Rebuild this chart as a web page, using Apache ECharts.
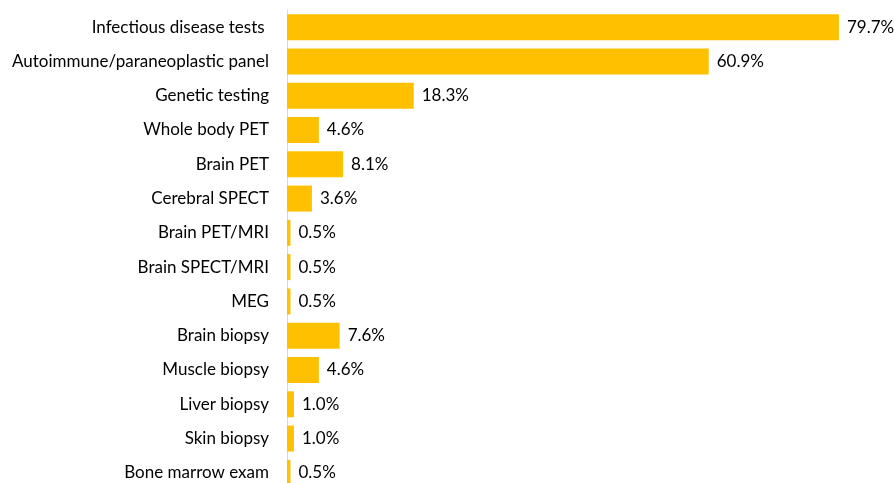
<!DOCTYPE html>
<html>
<head>
<meta charset="utf-8">
<script src="https://cdn.jsdelivr.net/npm/echarts@6/dist/echarts.min.js"></script>
<style>html,body{margin:0;padding:0;background:#fff;overflow:hidden;width:894px;height:483px}#c{width:894px;height:490px}</style>
</head>
<body>
<div id="c"></div>
<script>
var categories = ["Infectious disease tests ", "Autoimmune/paraneoplastic panel", "Genetic testing", "Whole body PET", "Brain PET", "Cerebral SPECT", "Brain PET/MRI", "Brain SPECT/MRI", "MEG", "Brain biopsy", "Muscle biopsy", "Liver biopsy", "Skin biopsy", "Bone marrow exam"];
var values = [79.7, 60.9, 18.3, 4.6, 8.1, 3.6, 0.5, 0.5, 0.5, 7.6, 4.6, 1.0, 1.0, 0.5];

var chart = echarts.init(document.getElementById('c'), null, {renderer: 'canvas'});
chart.setOption({
  animation: false,
  grid: {left: 287, right: 53, top: 10, bottom: 0, containLabel: false},
  xAxis: {
    type: 'value', min: 0, max: 80, show: false
  },
  yAxis: {
    type: 'category', inverse: true, data: categories,
    axisLine: {show: true, lineStyle: {color: '#d9d9d9', width: 1}},
    axisTick: {show: false},
    axisLabel: {color: '#000', fontFamily: 'Lato', fontSize: 17, margin: 18}
  },
  series: [{
    type: 'bar', data: values, barWidth: 26,
    itemStyle: {color: '#FFC000'},
    label: {show: true, position: 'right', distance: 8, color: '#000', fontFamily: 'Lato', fontSize: 17,
      formatter: function (p) { return p.value.toFixed(1) + '%'; }}
  }]
});
</script>
</body>
</html>
